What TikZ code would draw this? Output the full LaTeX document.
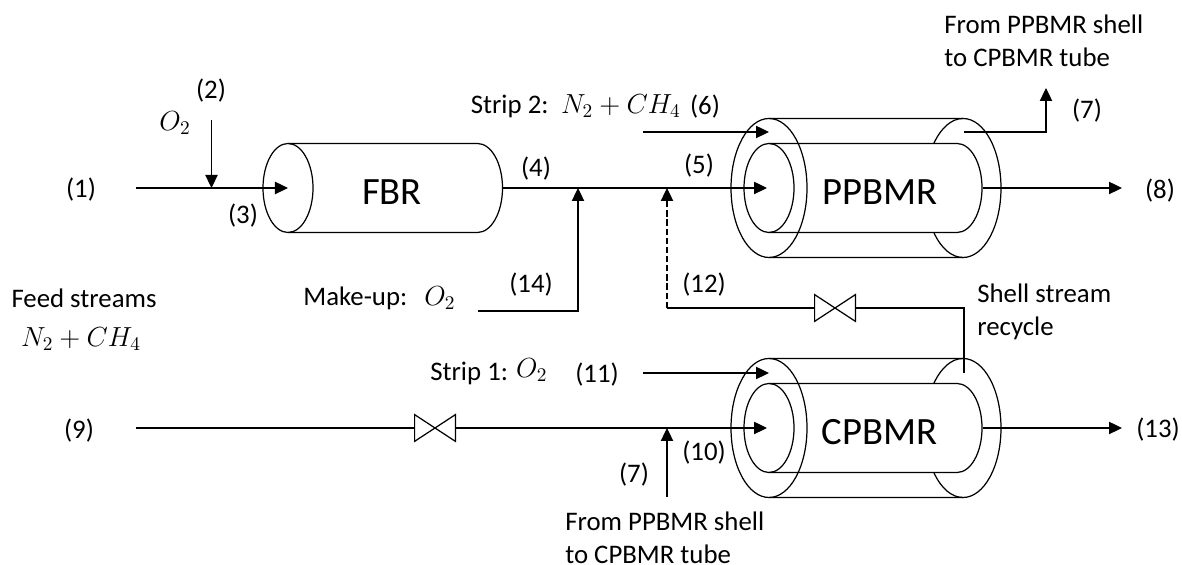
\documentclass[tikz,border=0pt]{standalone}
\usepackage{fix-cm}
\usepackage{fontspec}
\setmainfont{Carlito}
\DeclareMathSizes{15.25}{15.7}{11}{8.8}
\usetikzlibrary{arrows.meta, positioning}

\tikzset{
  line/.style={line width=0.7pt},
  flow/.style={line, -{Triangle[length=7.4pt, width=7pt]}},
  recycle/.style={flow, dash pattern=on 3.6pt off 1.6pt},
  lbl/.style={font=\fontsize{15.25}{18.7}\selectfont, inner sep=0pt, align=left},
  bigl/.style={font=\fontsize{22}{26}\selectfont, inner sep=0pt},
  valve/.style={minimum width=23.2pt, minimum height=15.2pt, inner sep=0pt, outer sep=0pt}
}

\begin{document}
\begin{tikzpicture}
  \useasboundingbox (0,0) rectangle (23.64,11.3);

  % fixed bed reactor
  \draw[line] (5.76,7.54) ellipse (0.5 and 0.89);
  \draw[line] (5.76,8.43) -- (9.55,8.43) arc (90:-90:0.5 and 0.89) -- (5.76,6.65);
  \node[bigl] (fbr) at (7.84,7.46) {FBR};

  % jacketed reactors
  \foreach \cy in {7.54,2.74} {
    \draw[line] (15.38,\cy) ellipse (0.76 and 1.39);
    \draw[line] (15.38,\cy) ellipse (0.5 and 0.89);
    \draw[line] (15.38,\cy+1.39) -- (19.26,\cy+1.39) arc (90:-90:0.76 and 1.39) -- (15.38,\cy-1.39);
    \draw[line] (15.38,\cy+0.89) -- (19.14,\cy+0.89) arc (90:-90:0.5 and 0.89) -- (15.38,\cy-0.89);
    \draw[line] (19.26,\cy+1.39) arc (90:140.2:0.76 and 1.39);
    \draw[line] (19.26,\cy-1.39) arc (-90:-140.2:0.76 and 1.39);
  }
  \node[bigl] (ppbmr) at (17.6,7.46) {PPBMR};
  \node[bigl] (cpbmr) at (17.59,2.66) {CPBMR};

  % valves
  \node[valve] (valveA) at (16.7,5.14) {};
  \node[valve] (valveB) at (8.7,2.74) {};
  \foreach \v in {valveA,valveB} {
    \draw[line] (\v.north west) -- (\v.south east) -- (\v.north east) -- (\v.south west) -- cycle;
  }

  % stream end points
  \coordinate (feed) at (2.72,7.54);
  \coordinate (fbrin) at (5.76,7.54);
  \coordinate (oxA) at (4.23,8.9);
  \coordinate (oxB) at (4.23,7.54);
  \coordinate (fbrout) at (10.05,7.54);
  \coordinate (mixA) at (11.56,7.54);
  \coordinate (mixB) at (13.34,7.54);
  \coordinate (ppin) at (15.34,7.54);
  \coordinate (stripA) at (12.86,8.66);
  \coordinate (ppshell) at (15.38,8.66);
  \coordinate (ppshellout) at (19.28,8.66);
  \coordinate (bend) at (20.92,8.66);
  \coordinate (top) at (20.92,9.54);
  \coordinate (ppout) at (19.66,7.54);
  \coordinate (prod) at (22.44,7.54);
  \coordinate (makeup) at (9.56,5.08);
  \coordinate (makeupbend) at (11.56,5.08);
  \coordinate (recyc) at (13.34,5.14);
  \coordinate (cpshellout) at (19.28,3.84);
  \coordinate (cpbend) at (19.28,5.14);
  \coordinate (stripB) at (12.86,3.84);
  \coordinate (cpshell) at (15.38,3.84);
  \coordinate (feedB) at (2.72,2.74);
  \coordinate (mixC) at (13.34,2.74);
  \coordinate (cpin) at (15.34,2.74);
  \coordinate (fromshell) at (13.34,1.36);
  \coordinate (cpout) at (19.66,2.74);
  \coordinate (prodB) at (22.44,2.74);

  % upper line
  \draw[flow] (feed) -- (fbrin);
  \draw[flow] (oxA) -- (oxB);
  \draw[flow] (fbrout) -- (ppin);
  \draw[flow] (stripA) -- (ppshell);
  \draw[flow] (ppshellout) -- (bend) -- (top);
  \draw[flow] (ppout) -- (prod);
  \draw[flow] (makeup) -- (makeupbend) -- (mixA);

  % recycle
  \draw[line] (cpshellout) -- (cpbend) -- (valveA.east);
  \draw[line] (valveA.west) -- (recyc);
  \draw[recycle] (recyc) -- (mixB);

  % lower line
  \draw[line] (feedB) -- (valveB.west);
  \draw[flow] (valveB.east) -- (cpin);
  \draw[flow] (stripB) -- (cpshell);
  \draw[flow] (fromshell) -- (mixC);
  \draw[flow] (cpout) -- (prodB);

  % stream numbers
  \node[lbl] (s1) at (1.62,7.5) {(1)};
  \node[lbl] (s2) at (4.22,9.48) {(2)};
  \node[lbl] (s3) at (4.86,6.98) {(3)};
  \node[lbl] (s4) at (10.72,7.92) {(4)};
  \node[lbl] (s5) at (13.98,7.98) {(5)};
  \node[lbl] (s6) at (14.1,9.16) {(6)};
  \node[lbl] (s7a) at (21.74,9.08) {(7)};
  \node[lbl] (s8) at (23.2,7.48) {(8)};
  \node[lbl] (s9) at (1.58,2.68) {(9)};
  \node[lbl] (s10) at (14.08,2.24) {(10)};
  \node[lbl] (s11) at (11.94,3.8) {(11)};
  \node[lbl] (s12) at (14.08,5.6) {(12)};
  \node[lbl] (s13) at (23.16,2.7) {(13)};
  \node[lbl] (s14) at (10.62,5.6) {(14)};
  \node[lbl] (s7b) at (12.68,1.8) {(7)};

  % stream names
  \node[lbl] (oxlabel) at (3.5,8.84) {\(O_2\)};
  \node[lbl, anchor=west] (striptwo) at (9.41,9.18) {Strip 2:\, \(N_2+CH_4\)};
  \node[lbl, anchor=west] (totube) at (18.88,10.48) {From PPBMR shell\\to CPBMR tube};
  \node[lbl] (feedname) at (1.68,5.34) {Feed streams};
  \node[lbl] (feedgas) at (1.62,4.52) {\(N_2+CH_4\)};
  \node[lbl, anchor=west] (mkname) at (6.06,5.34) {Make-up:\,\, \(O_2\)};
  \node[lbl, anchor=west] (shellname) at (19.54,5.06) {Shell stream\\recycle};
  \node[lbl, anchor=west] (stripone) at (8.6,3.86) {Strip 1: \raisebox{1.7pt}{\(O_2\)}};
  \node[lbl, anchor=west] (totubeB) at (11.3,0.54) {From PPBMR shell\\to CPBMR tube};
\end{tikzpicture}
\end{document}
